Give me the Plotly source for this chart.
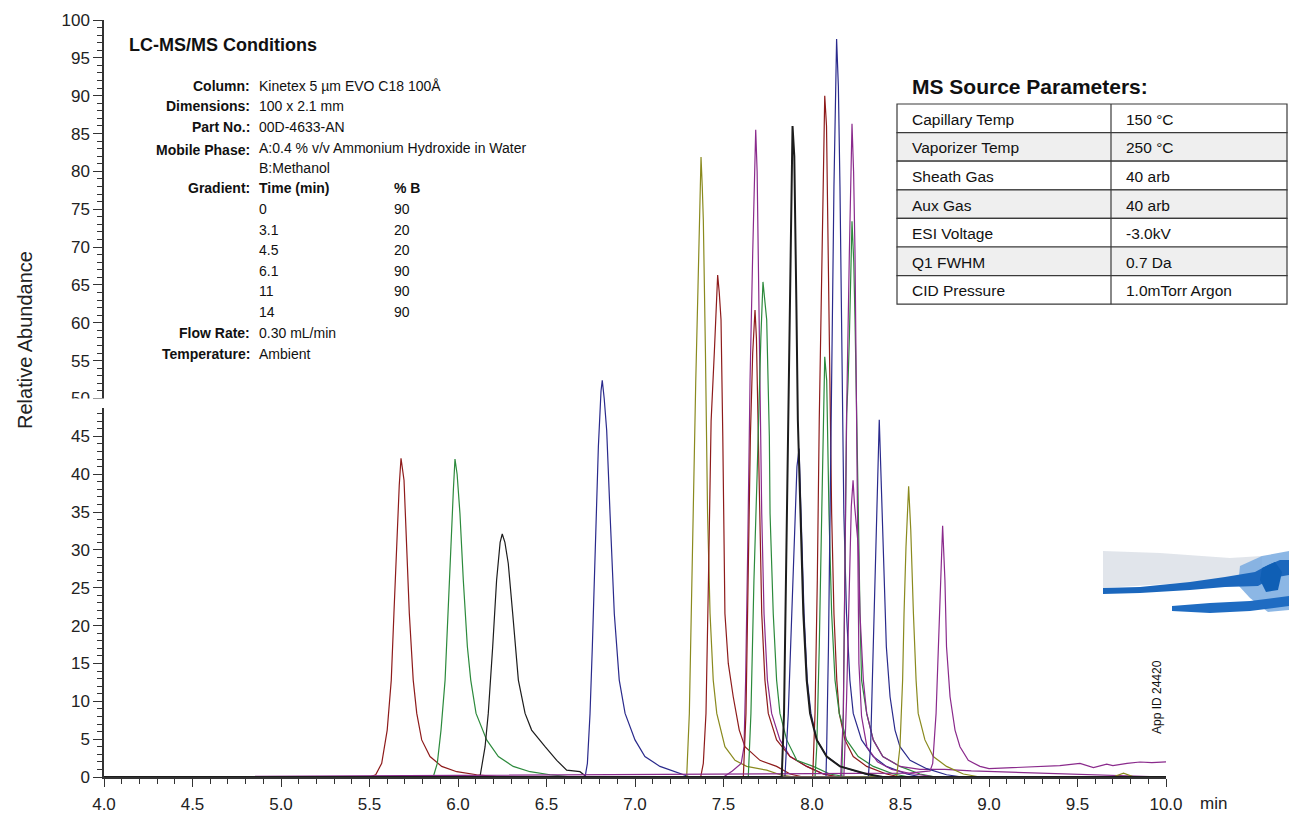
import plotly.graph_objects as go

# ---- chromatogram peaks: retention time (min) / relative abundance (%) ----
rt_01 = [5.50, 5.535, 5.569, 5.60, 5.623, 5.638, 5.653, 5.668, 5.678, 5.686, 5.695, 5.710, 5.725, 5.747, 5.767, 5.795, 5.842, 5.908, 5.993, 6.105, 6.25]
ab_01 = [0, 0.3, 1.8, 6.2, 12.8, 21.6, 30.4, 38.5, 42.1, 41.0, 39.2, 30.4, 21.6, 12.8, 8.4, 4.9, 2.7, 1.4, 0.7, 0.3, 0]

rt_02 = [5.860, 5.883, 5.904, 5.927, 5.945, 5.960, 5.974, 5.983, 5.995, 6.011, 6.030, 6.053, 6.072, 6.102, 6.162, 6.228, 6.312, 6.407, 6.52, 6.65]
ab_02 = [0, 1.8, 6.2, 12.8, 21.6, 30.4, 38.0, 42.0, 40.0, 34.8, 26.0, 17.2, 12.8, 8.4, 4.9, 2.7, 1.4, 0.7, 0.3, 0]

rt_03 = [6.124, 6.153, 6.171, 6.196, 6.218, 6.238, 6.250, 6.265, 6.284, 6.309, 6.341, 6.379, 6.416, 6.492, 6.558, 6.614, 6.66, 6.689, 6.727]
ab_03 = [0, 4.0, 8.4, 17.2, 26.0, 31.0, 32.1, 31.0, 28.2, 21.6, 12.8, 8.4, 6.2, 4.0, 2.2, 0.9, 0.8, 0.7, 0]

rt_04 = [6.718, 6.731, 6.746, 6.759, 6.774, 6.793, 6.808, 6.815, 6.826, 6.840, 6.859, 6.883, 6.911, 6.944, 7.0, 7.056, 7.141, 7.254, 7.311]
ab_04 = [0, 1.8, 8.4, 17.2, 30.4, 43.6, 51.0, 52.4, 50.0, 45.8, 34.8, 21.6, 12.8, 8.4, 4.9, 2.7, 1.4, 0.4, 0]

rt_05 = [7.292, 7.307, 7.320, 7.332, 7.343, 7.356, 7.367, 7.373, 7.380, 7.386, 7.398, 7.405, 7.410, 7.424, 7.442, 7.462, 7.508, 7.565, 7.631, 7.744, 7.82, 7.9]
ab_05 = [0, 8.4, 26.0, 40.0, 52.0, 64.8, 78.0, 81.9, 78.0, 73.6, 56.0, 45.0, 34.8, 21.6, 12.8, 8.4, 4.0, 2.2, 1.4, 0.9, 0.3, 0]

rt_06 = [7.371, 7.386, 7.401, 7.415, 7.430, 7.448, 7.460, 7.467, 7.476, 7.486, 7.496, 7.502, 7.508, 7.527, 7.555, 7.589, 7.621, 7.706, 7.80, 7.876, 7.95]
ab_06 = [0, 1.8, 8.4, 26.0, 47.0, 56.0, 63.0, 66.3, 64.0, 60.4, 45.0, 34.8, 21.6, 15.0, 10.6, 6.2, 4.0, 2.2, 1.4, 0.4, 0]

rt_07 = [7.50, 7.55, 7.60, 7.616, 7.625, 7.637, 7.650, 7.665, 7.682, 7.690, 7.697, 7.706, 7.716, 7.729, 7.748, 7.772, 7.819, 7.876, 7.97, 8.064, 8.15]
ab_07 = [0, 0.8, 1.8, 4.0, 12.8, 30.4, 52.4, 69.2, 85.5, 80.0, 69.2, 51.6, 34.8, 21.6, 12.8, 8.4, 4.9, 2.7, 1.4, 0.4, 0]

rt_08 = [7.612, 7.627, 7.640, 7.652, 7.665, 7.678, 7.686, 7.691, 7.703, 7.716, 7.734, 7.753, 7.80, 7.876, 7.97, 8.064, 8.15]
ab_08 = [0, 8.4, 26.0, 45.0, 56.0, 61.7, 58.0, 51.6, 34.8, 21.6, 12.8, 8.4, 4.9, 2.7, 1.4, 0.4, 0]

rt_09 = [7.640, 7.655, 7.672, 7.690, 7.703, 7.711, 7.723, 7.733, 7.744, 7.759, 7.763, 7.781, 7.80, 7.819, 7.857, 7.914, 8.007, 8.10, 8.2]
ab_09 = [0, 8.4, 26.0, 40.0, 52.0, 58.0, 65.4, 63.0, 60.4, 45.0, 34.8, 21.6, 12.8, 8.4, 4.9, 2.2, 1.4, 0.4, 0]

rt_10 = [7.829, 7.842, 7.853, 7.866, 7.876, 7.890, 7.900, 7.905, 7.912, 7.920, 7.936, 7.951, 7.970, 7.989, 8.027, 8.083, 8.158, 8.309, 8.4]
ab_10 = [0, 8.4, 26.0, 47.2, 69.2, 86.0, 82.0, 75.0, 62.0, 47.2, 34.8, 21.6, 12.8, 8.4, 4.9, 2.7, 1.4, 0.4, 0]

rt_11 = [7.847, 7.866, 7.885, 7.904, 7.915, 7.927, 7.938, 7.955, 7.973, 7.994, 8.027, 8.083, 8.16, 8.3, 8.4]
ab_11 = [0, 8.4, 21.6, 34.8, 41.0, 43.4, 34.8, 21.6, 12.8, 8.4, 4.9, 2.7, 1.4, 0.4, 0]

rt_12 = [8.004, 8.017, 8.030, 8.041, 8.055, 8.072, 8.082, 8.092, 8.102, 8.111, 8.124, 8.140, 8.154, 8.186, 8.233, 8.309, 8.42, 8.5]
ab_12 = [0, 8.4, 26.0, 47.2, 69.2, 90.0, 86.0, 69.2, 47.2, 34.8, 21.6, 12.8, 8.4, 4.9, 2.7, 1.4, 0.4, 0]

rt_13 = [8.017, 8.027, 8.041, 8.055, 8.065, 8.072, 8.083, 8.096, 8.111, 8.130, 8.154, 8.195, 8.261, 8.346, 8.46, 8.55]
ab_13 = [0, 4.0, 17.2, 34.8, 50.0, 55.5, 52.4, 34.8, 21.6, 12.8, 8.4, 4.9, 2.7, 1.4, 0.4, 0]

rt_14 = [8.079, 8.083, 8.093, 8.102, 8.111, 8.124, 8.139, 8.149, 8.158, 8.168, 8.180, 8.195, 8.214, 8.233, 8.28, 8.346, 8.42, 8.535, 8.62]
ab_14 = [0, 4.0, 17.2, 34.8, 56.0, 78.0, 97.5, 91.2, 78.0, 56.0, 34.8, 21.6, 12.8, 8.4, 4.9, 2.7, 1.4, 0.4, 0]

rt_15 = [8.162, 8.177, 8.186, 8.195, 8.211, 8.226, 8.235, 8.243, 8.252, 8.258, 8.265, 8.28, 8.31, 8.37, 8.45, 8.55, 8.7]
ab_15 = [0, 8.4, 26.0, 47.2, 69.2, 86.3, 80.0, 69.2, 47.2, 30.0, 15.0, 8.0, 4.0, 2.0, 1.0, 0.5, 0]

rt_16 = [8.168, 8.177, 8.186, 8.196, 8.204, 8.211, 8.226, 8.236, 8.243, 8.252, 8.262, 8.271, 8.280, 8.309, 8.346, 8.40, 8.497, 8.61, 8.7]
ab_16 = [0, 8.4, 30.4, 48.0, 52.4, 58.0, 73.4, 68.0, 60.4, 45.0, 34.8, 21.6, 12.8, 8.4, 4.9, 2.7, 1.4, 0.4, 0]

rt_17 = [8.180, 8.195, 8.205, 8.215, 8.222, 8.232, 8.240, 8.262, 8.271, 8.290, 8.309, 8.346, 8.40, 8.497, 8.61, 8.75, 8.9]
ab_17 = [0, 10.0, 20.0, 30.0, 35.7, 39.2, 36.0, 30.4, 21.6, 12.8, 8.4, 4.9, 2.7, 1.4, 1.0, 1.0, 0.8]

rt_18 = [8.318, 8.331, 8.342, 8.356, 8.371, 8.380, 8.390, 8.407, 8.420, 8.441, 8.469, 8.497, 8.554, 8.648, 8.76, 8.85]
ab_18 = [0, 4.0, 12.8, 26.0, 39.2, 47.2, 39.2, 26.0, 17.2, 10.6, 6.2, 4.0, 2.2, 1.1, 0.3, 0]

rt_19 = [8.478, 8.497, 8.512, 8.520, 8.531, 8.546, 8.558, 8.573, 8.588, 8.600, 8.638, 8.685, 8.76, 8.855, 8.95, 9.70, 9.76, 9.82]
ab_19 = [0, 4.0, 12.8, 21.6, 30.4, 38.4, 32.6, 21.6, 12.8, 8.4, 4.9, 2.7, 1.4, 0.4, 0, 0, 0.5, 0]

rt_20 = [8.55, 8.667, 8.682, 8.701, 8.714, 8.727, 8.738, 8.751, 8.760, 8.780, 8.808, 8.836, 8.883, 8.949, 9.0, 9.1, 9.2, 9.29, 9.40, 9.514, 9.59, 9.665, 9.70, 9.78, 9.853, 9.92, 10.0]
ab_20 = [0.5, 0.8, 1.8, 8.4, 17.2, 26.0, 33.2, 26.0, 17.2, 10.6, 6.2, 4.0, 2.2, 1.4, 1.1, 1.2, 1.3, 1.36, 1.5, 1.8, 1.25, 1.7, 1.5, 1.8, 1.98, 1.9, 2.0]

RED, GREEN, BLACK = "#8e1b1b", "#2c8a3c", "#1c1c1c"
NAVY, OLIVE, PURPLE = "#2a2a8c", "#8a8a1e", "#8a2a8c"

peaks = [
    (rt_01, ab_01, RED), (rt_02, ab_02, GREEN), (rt_03, ab_03, BLACK),
    (rt_04, ab_04, NAVY), (rt_05, ab_05, OLIVE), (rt_06, ab_06, RED),
    (rt_07, ab_07, PURPLE), (rt_08, ab_08, RED), (rt_09, ab_09, GREEN),
    (rt_11, ab_11, NAVY), (rt_12, ab_12, RED), (rt_13, ab_13, GREEN),
    (rt_14, ab_14, NAVY), (rt_16, ab_16, GREEN), (rt_15, ab_15, PURPLE),
    (rt_17, ab_17, PURPLE), (rt_18, ab_18, NAVY), (rt_19, ab_19, OLIVE),
    (rt_20, ab_20, PURPLE), (rt_10, ab_10, BLACK),
]

# ---- method text ----
cond_labels = ["Column:", "Dimensions:", "Part No.:", "Mobile Phase:", "", "Gradient:"]
cond_values = ["Kinetex 5 µm EVO C18 100Å", "100 x 2.1 mm", "00D-4633-AN",
               "A:0.4 % v/v Ammonium Hydroxide in Water", "B:Methanol", "Time (min)"]
grad_time = ["0", "3.1", "4.5", "6.1", "11", "14"]
grad_b = ["90", "20", "20", "90", "90", "90"]
tail_labels = ["Flow Rate:", "Temperature:"]
tail_values = ["0.30 mL/min", "Ambient"]

src_param = ["Capillary Temp", "Vaporizer Temp", "Sheath Gas", "Aux Gas",
             "ESI Voltage", "Q1 FWHM", "CID Pressure"]
src_value = ["150 °C", "250 °C", "40 arb", "40 arb", "-3.0kV", "0.7 Da", "1.0mTorr Argon"]

x_ticks = [4.0, 4.5, 5.0, 5.5, 6.0, 6.5, 7.0, 7.5, 8.0, 8.5, 9.0, 9.5, 10.0]
y_ticks = list(range(0, 101, 5))

# ---- page geometry (pixels) ----
W, H = 1289, 814
L, R, T, B = 104, 1166, 20, 777


def px(x):
    return (x - L) / (R - L)


def py(y):
    return (B - y) / (B - T)


def path(points):
    return "M " + " L ".join(f"{px(a):.5f},{py(b):.5f}" for a, b in points) + " Z"


TXT = "Liberation Sans, Arial, sans-serif"
SANS = "Liberation Sans, Arial, sans-serif"

fig = go.Figure()
for rt, ab, col in peaks:
    xs = [4.0] + rt + ([10.0] if rt[-1] < 10.0 else [])
    ys = [0] + ab + ([0] if rt[-1] < 10.0 else [])
    fig.add_trace(go.Scatter(x=xs, y=ys, mode="lines",
                             line=dict(color=col, width=2.0 if rt is rt_10 else 1.2),
                             hoverinfo="skip", showlegend=False))

ann = []
shapes = []


def text(x, y, s, size, bold=False, anchor="left", family=TXT, color="#111", angle=0):
    ann.append(dict(x=px(x), y=py(y), xref="paper", yref="paper", text=f"<b>{s}</b>" if bold else s,
                    showarrow=False, xanchor=anchor, yanchor="middle", textangle=angle,
                    font=dict(size=size, family=family, color=color)))


text(127, 45, "LC-MS/MS Conditions", 18, bold=True, family=SANS)
rows_y = [86, 106, 127, 148, 168, 188]
FS = 14
for lab, val, yy in zip(cond_labels, cond_values, rows_y):
    if lab:
        text(252, yy + (2 if lab == "Mobile Phase:" else 0), lab, FS, bold=True, anchor="right")
    text(257, yy, val, FS, bold=(lab == "Gradient:"))
text(392, 188, "% B", FS, bold=True)
for i, (tm, pb) in enumerate(zip(grad_time, grad_b)):
    yy = 209 + i * 20.6
    text(257, yy, tm, FS)
    text(392, yy, pb, FS)
for lab, val, yy in zip(tail_labels, tail_values, [333, 354]):
    text(252, yy, lab, FS, bold=True, anchor="right")
    text(257, yy, val, FS)

# source parameter table
text(910, 87, "MS Source Parameters:", 21, bold=True, family=SANS)
tx0, tx1, tdiv, ty0, rh = 897, 1287, 1111, 104, 28.6
for i, (p, v) in enumerate(zip(src_param, src_value)):
    y0 = ty0 + i * rh
    shapes.append(dict(type="rect", xref="paper", yref="paper", x0=px(tx0), x1=px(tx1),
                       y0=py(y0 + rh), y1=py(y0), fillcolor="#efefef" if i % 2 else "white",
                       line=dict(color="#3a3a3a", width=1.2), layer="above"))
    text(910, y0 + rh / 2 + 1, p, 15.5)
    text(1124, y0 + rh / 2 + 1, v, 15.5)
shapes.append(dict(type="line", xref="paper", yref="paper", x0=px(tdiv), x1=px(tdiv),
                   y0=py(ty0), y1=py(ty0 + 7 * rh), line=dict(color="#3a3a3a", width=1.2), layer="above"))

# break in the vertical scale just below 50
shapes.append(dict(type="rect", xref="paper", yref="paper", x0=px(0), x1=px(450),
                   y0=py(408), y1=py(398.5), fillcolor="white", line=dict(width=0), layer="above"))

# decorative blue streak
shapes += [
    dict(type="path", xref="paper", yref="paper", layer="above", line=dict(width=0),
         fillcolor="rgba(215,220,228,0.75)",
         path=path([(1103, 551), (1160, 553), (1230, 558), (1262, 556), (1262, 575), (1200, 582), (1103, 588)])),
    dict(type="path", xref="paper", yref="paper", layer="above", line=dict(width=0),
         fillcolor="rgba(120,170,225,0.85)",
         path=path([(1240, 566), (1262, 556), (1289, 551), (1289, 610), (1268, 612), (1250, 598), (1238, 585)])),
    dict(type="path", xref="paper", yref="paper", layer="above", line=dict(width=0),
         fillcolor="#1b67bd",
         path=path([(1103, 588), (1140, 587), (1190, 582), (1225, 577), (1255, 572), (1268, 565), (1280, 560),
                    (1289, 560), (1289, 575), (1272, 578), (1258, 586), (1225, 587), (1190, 590), (1140, 593), (1103, 594)])),
    dict(type="path", xref="paper", yref="paper", layer="above", line=dict(width=0),
         fillcolor="#1f6cc2",
         path=path([(1172, 606), (1210, 603), (1250, 601), (1289, 596), (1289, 606), (1250, 611), (1210, 613), (1172, 611)])),
    dict(type="path", xref="paper", yref="paper", layer="above", line=dict(width=0),
         fillcolor="#0f5fb5",
         path=path([(1262, 568), (1275, 562), (1282, 572), (1278, 590), (1266, 592), (1260, 580)])),
]

text(1157, 697, "App ID 24420", 12, anchor="center", family=SANS, angle=-90)
text(25, 340, "Relative Abundance", 20, anchor="center", family=SANS, color="#222", angle=-90)
text(1198, 803, "min", 17, family=SANS, color="#222")

fig.update_layout(
    width=W, height=H, margin=dict(l=L, r=W - R, t=T, b=H - B, autoexpand=False),
    paper_bgcolor="white", plot_bgcolor="white",
    annotations=ann, shapes=shapes, showlegend=False,
    xaxis=dict(range=[4.0, 10.0], tickvals=x_ticks, ticktext=[f"{v:.1f}" for v in x_ticks],
               automargin=False, ticklabelstandoff=3,
               ticks="outside", ticklen=8, tickwidth=1.3, tickcolor="#333",
               showline=True, linecolor="#333", linewidth=1.5, showgrid=False, zeroline=False,
               tickfont=dict(size=17, family=SANS, color="#222"),
               minor=dict(dtick=0.1, tick0=4.0, ticks="outside", ticklen=5, tickcolor="#333", tickwidth=1.1)),
    yaxis=dict(range=[0, 100], tickvals=y_ticks, ticks="outside", ticklen=9, tickwidth=1.3, tickcolor="#333",
               automargin=False,
               showline=True, linecolor="#333", linewidth=1.5, showgrid=False, zeroline=False,
               tickfont=dict(size=17, family=SANS, color="#222"),
               minor=dict(dtick=1, tick0=0, ticks="outside", ticklen=5, tickcolor="#333", tickwidth=1.1)),
)

fig.write_html("out.html")
